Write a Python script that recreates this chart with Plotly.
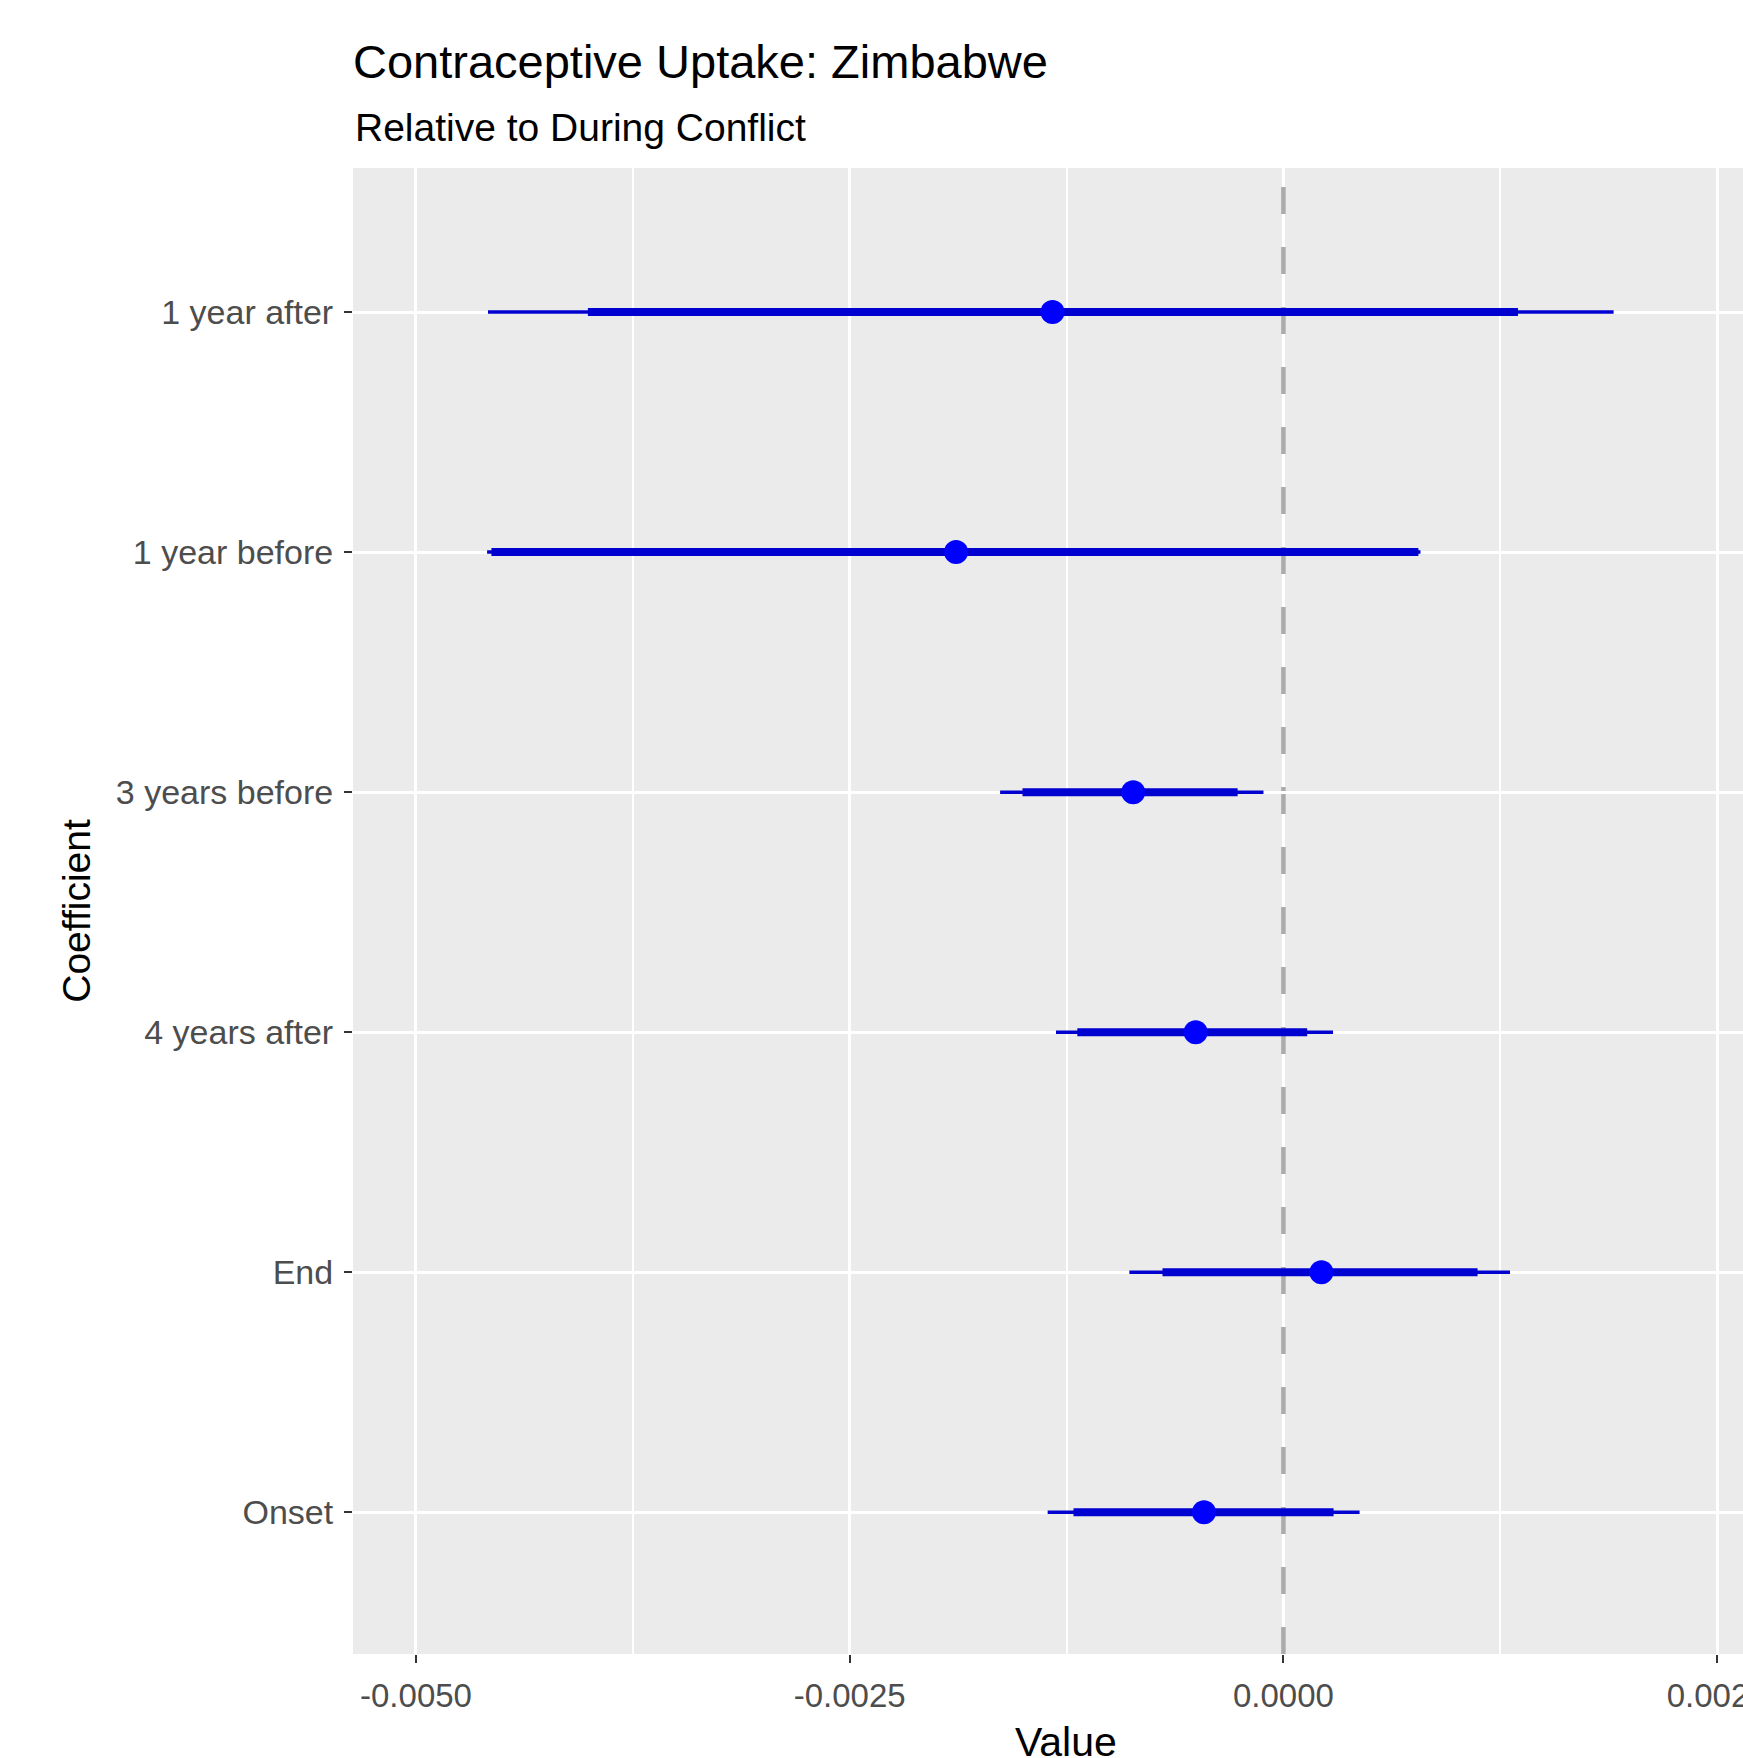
import plotly.graph_objects as go

# ---- data ----
coefficients = ["1 year after", "1 year before", "3 years before", "4 years after", "End", "Onset"]
estimate     = [-0.001331, -0.001887, -0.000866, -0.000506,  0.000219, -0.000458]
inner_low    = [-0.004009, -0.004565, -0.001504, -0.001188, -0.000697, -0.001210]
inner_high   = [ 0.001352,  0.000778, -0.000264,  0.000137,  0.001119,  0.000289]
outer_low    = [-0.004585, -0.004590, -0.001633, -0.001311, -0.000888, -0.001359]
outer_high   = [ 0.001903,  0.000790, -0.000115,  0.000286,  0.001306,  0.000439]

x_tickvals  = [-0.005, -0.0025, 0.0, 0.0025]
x_ticktext  = ["-0.0050", "-0.0025", "0.0000", "0.0025"]
x_gridvals  = [-0.005, -0.0025, 0.0025]          # major grid (zero handled by the reference line)
x_minorvals = [-0.00375, -0.00125, 0.00125]
x_range     = [-0.005363, 0.002649]

FONT = "Liberation Sans, Arial, sans-serif"
LINE_COLOR = "#0000D0"
POINT_COLOR = "#0000FF"

W, H = 1743, 1758
PLOT_LEFT = 353
PLOT_TOP, PLOT_BOTTOM = 168, 1654
PLOT_H = PLOT_BOTTOM - PLOT_TOP
PLOT_W = W - PLOT_LEFT


def segments(lows, highs, cats):
    xs, ys = [], []
    for lo, hi, c in zip(lows, highs, cats):
        xs += [lo, hi, None]
        ys += [c, c, None]
    return xs, ys


fig = go.Figure()

ox, oy = segments(outer_low, outer_high, coefficients)
fig.add_trace(go.Scatter(x=ox, y=oy, mode="lines",
                         line=dict(color=LINE_COLOR, width=3.5),
                         showlegend=False, hoverinfo="skip"))

ix, iy = segments(inner_low, inner_high, coefficients)
fig.add_trace(go.Scatter(x=ix, y=iy, mode="lines",
                         line=dict(color=LINE_COLOR, width=8),
                         showlegend=False, hoverinfo="skip"))

fig.add_trace(go.Scatter(x=estimate, y=coefficients, mode="markers", xaxis="x2",
                         marker=dict(color=POINT_COLOR, size=24, line=dict(width=0)),
                         showlegend=False))

# white major grid line at zero, with the grey dashed reference line on top (both under the data)
fig.add_shape(type="line", xref="x", yref="paper", x0=0, x1=0, y0=0, y1=1,
              line=dict(color="white", width=3), layer="below")
fig.add_shape(type="line", xref="x", yref="paper", x0=0, x1=0, y0=0, y1=1,
              line=dict(color="#ABABAB", width=4.5, dash="27px,33px"), layer="below")

fig.update_layout(
    width=W, height=H,
    margin=dict(l=PLOT_LEFT, r=0, t=PLOT_TOP, b=H - PLOT_BOTTOM, autoexpand=False),
    paper_bgcolor="white", plot_bgcolor="#EBEBEB",
    font=dict(family=FONT, color="#000000"),
    title=dict(text="Contraceptive Uptake: Zimbabwe",
               font=dict(size=47, color="#000000", family=FONT),
               xref="paper", x=0, xanchor="left",
               yref="container", y=1 - 62 / H, yanchor="middle"),
    annotations=[
        dict(text="Relative to During Conflict", showarrow=False,
             xref="paper", x=0, xanchor="left",
             yref="paper", y=(PLOT_BOTTOM - 127) / PLOT_H, yanchor="middle",
             font=dict(size=39, color="#000000", family=FONT)),
        # x-axis title, centred on the (wider, cropped) ggplot panel
        dict(text="Value", showarrow=False,
             xref="paper", x=(1066 - PLOT_LEFT) / PLOT_W, xanchor="center",
             yref="paper", y=-(1742 - PLOT_BOTTOM) / PLOT_H, yanchor="middle",
             font=dict(size=41, color="#000000", family=FONT)),
    ],
    showlegend=False,
)

# grid-only x axis
fig.update_layout(xaxis=dict(
    range=x_range,
    tickmode="array", tickvals=x_gridvals,
    showticklabels=False, ticks="",
    showgrid=True, gridcolor="white", gridwidth=3,
    minor=dict(tickmode="array", tickvals=x_minorvals, showgrid=True,
               gridcolor="white", gridwidth=1.5, ticks=""),
    zeroline=False, showline=False, automargin=False,
))

# labelled x axis (same scale), no grid
fig.update_layout(xaxis2=dict(
    overlaying="x", anchor="y", side="bottom",
    range=x_range,
    tickmode="array", tickvals=x_tickvals, ticktext=x_ticktext,
    showgrid=False, zeroline=False, showline=False,
    ticks="outside", ticklen=8, tickwidth=2, tickcolor="#333333",
    tickfont=dict(size=33, color="#4D4D4D", family=FONT),
    ticklabelstandoff=4, ticklabeloverflow="allow",
    automargin=False,
))

fig.update_yaxes(
    type="category",
    categoryorder="array", categoryarray=coefficients[::-1],
    range=[-0.59, 5.6],
    showgrid=True, gridcolor="white", gridwidth=3,
    zeroline=False, showline=False,
    ticks="outside", ticklen=8, tickwidth=2, tickcolor="#333333",
    tickfont=dict(size=34, color="#4D4D4D", family=FONT),
    ticklabelstandoff=4,
    automargin=False,
    title=dict(text="Coefficient", font=dict(size=39, color="#000000", family=FONT), standoff=13),
)

fig.write_html("out.html",
               config={"displayModeBar": False},
               post_script="document.body.style.margin='0px';document.body.style.overflow='hidden';")
